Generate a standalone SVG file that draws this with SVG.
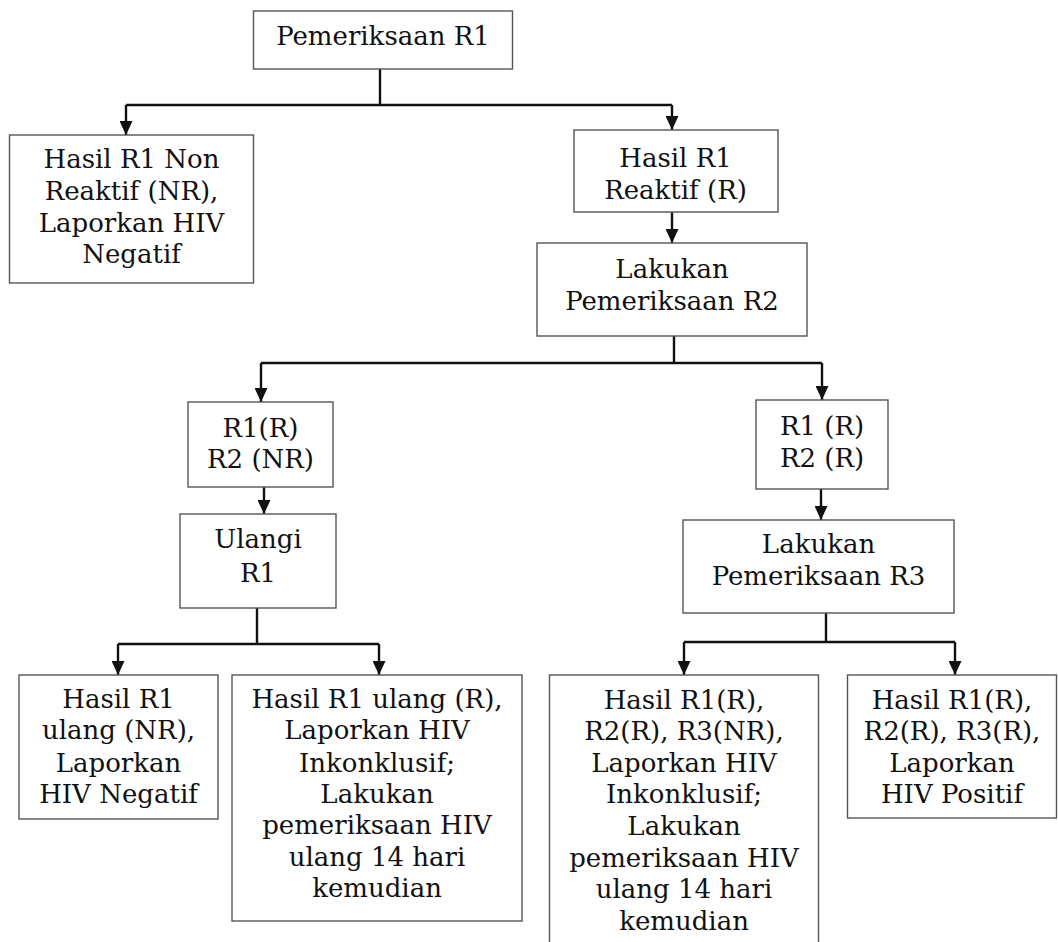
<svg xmlns="http://www.w3.org/2000/svg" width="1058" height="942" viewBox="0 0 1058 942">
<style>
.box{fill:#fff;stroke:#555;stroke-width:1.4}
.t{font-family:"DejaVu Serif","Liberation Serif",serif;font-size:26px;fill:#111;text-anchor:middle}
.c{fill:none;stroke:#111;stroke-width:2.4}
</style>
<defs>
<marker id="ah" viewBox="0 0 14 13" refX="14" refY="6.5" markerWidth="14" markerHeight="13" markerUnits="userSpaceOnUse" orient="auto">
<path d="M0,0 L14,6.5 L0,13 Z" fill="#111"/>
</marker>
</defs>
<rect width="1058" height="942" fill="#fff"/>
<g id="connectors">
<path class="c" d="M380,69 V105"/>
<path class="c" d="M126,105 H672"/>
<path class="c" d="M126,105 V135" marker-end="url(#ah)"/>
<path class="c" d="M672,105 V130" marker-end="url(#ah)"/>
<path class="c" d="M672,212 V243" marker-end="url(#ah)"/>
<path class="c" d="M674,336 V363"/>
<path class="c" d="M261,363 H822"/>
<path class="c" d="M261,363 V402" marker-end="url(#ah)"/>
<path class="c" d="M822,363 V400" marker-end="url(#ah)"/>
<path class="c" d="M264,487 V514" marker-end="url(#ah)"/>
<path class="c" d="M821,489 V520" marker-end="url(#ah)"/>
<path class="c" d="M257,608 V644"/>
<path class="c" d="M118,644 H379"/>
<path class="c" d="M118,644 V675" marker-end="url(#ah)"/>
<path class="c" d="M379,644 V675" marker-end="url(#ah)"/>
<path class="c" d="M826,613 V642"/>
<path class="c" d="M684,642 H955"/>
<path class="c" d="M684,642 V675" marker-end="url(#ah)"/>
<path class="c" d="M955,642 V675" marker-end="url(#ah)"/>
</g>
<g id="n_r1">
<rect class="box" x="253.5" y="11" width="259" height="58"/>
<text class="t" x="383" y="45">Pemeriksaan R1</text>
</g>
<g id="n_nr">
<rect class="box" x="9.5" y="135" width="244" height="148"/>
<text class="t" x="131.5" y="168">Hasil R1 Non</text>
<text class="t" x="131.5" y="200">Reaktif (NR),</text>
<text class="t" x="131.5" y="232">Laporkan HIV</text>
<text class="t" x="131.5" y="263">Negatif</text>
</g>
<g id="n_reaktif">
<rect class="box" x="574" y="130" width="204" height="82"/>
<text class="t" x="675.5" y="167">Hasil R1</text>
<text class="t" x="675.5" y="199">Reaktif (R)</text>
</g>
<g id="n_r2">
<rect class="box" x="537" y="243" width="270" height="93"/>
<text class="t" x="672" y="278">Lakukan</text>
<text class="t" x="672" y="310">Pemeriksaan R2</text>
</g>
<g id="n_r1r_r2nr">
<rect class="box" x="188" y="402" width="145" height="85"/>
<text class="t" x="260.5" y="437">R1(R)</text>
<text class="t" x="260.5" y="468">R2 (NR)</text>
</g>
<g id="n_ulangi">
<rect class="box" x="180" y="514" width="156" height="94"/>
<text class="t" x="258" y="548">Ulangi</text>
<text class="t" x="258" y="582">R1</text>
</g>
<g id="n_r1r_r2r">
<rect class="box" x="756" y="400" width="132" height="89"/>
<text class="t" x="822" y="435">R1 (R)</text>
<text class="t" x="822" y="467">R2 (R)</text>
</g>
<g id="n_r3">
<rect class="box" x="683" y="520" width="271" height="93"/>
<text class="t" x="818.5" y="553">Lakukan</text>
<text class="t" x="818.5" y="585">Pemeriksaan R3</text>
</g>
<g id="n_ulang_nr">
<rect class="box" x="19" y="675" width="199" height="144"/>
<text class="t" x="118.5" y="708">Hasil R1</text>
<text class="t" x="118.5" y="739">ulang (NR),</text>
<text class="t" x="118.5" y="772">Laporkan</text>
<text class="t" x="118.5" y="803">HIV Negatif</text>
</g>
<g id="n_ulang_r">
<rect class="box" x="232" y="675" width="290" height="246"/>
<text class="t" x="377" y="708">Hasil R1 ulang (R),</text>
<text class="t" x="377" y="739">Laporkan HIV</text>
<text class="t" x="377" y="772">Inkonklusif;</text>
<text class="t" x="377" y="803">Lakukan</text>
<text class="t" x="377" y="834">pemeriksaan HIV</text>
<text class="t" x="377" y="866">ulang 14 hari</text>
<text class="t" x="377" y="897">kemudian</text>
</g>
<g id="n_r3nr">
<rect class="box" x="549.5" y="675" width="269" height="290"/>
<text class="t" x="684" y="709">Hasil R1(R),</text>
<text class="t" x="684" y="740">R2(R), R3(NR),</text>
<text class="t" x="684" y="772">Laporkan HIV</text>
<text class="t" x="684" y="803">Inkonklusif;</text>
<text class="t" x="684" y="835">Lakukan</text>
<text class="t" x="684" y="867">pemeriksaan HIV</text>
<text class="t" x="684" y="898">ulang 14 hari</text>
<text class="t" x="684" y="930">kemudian</text>
</g>
<g id="n_r3r">
<rect class="box" x="847.5" y="675" width="209" height="143"/>
<text class="t" x="952" y="709">Hasil R1(R),</text>
<text class="t" x="952" y="740">R2(R), R3(R),</text>
<text class="t" x="952" y="772">Laporkan</text>
<text class="t" x="952" y="803">HIV Positif</text>
</g>
</svg>
